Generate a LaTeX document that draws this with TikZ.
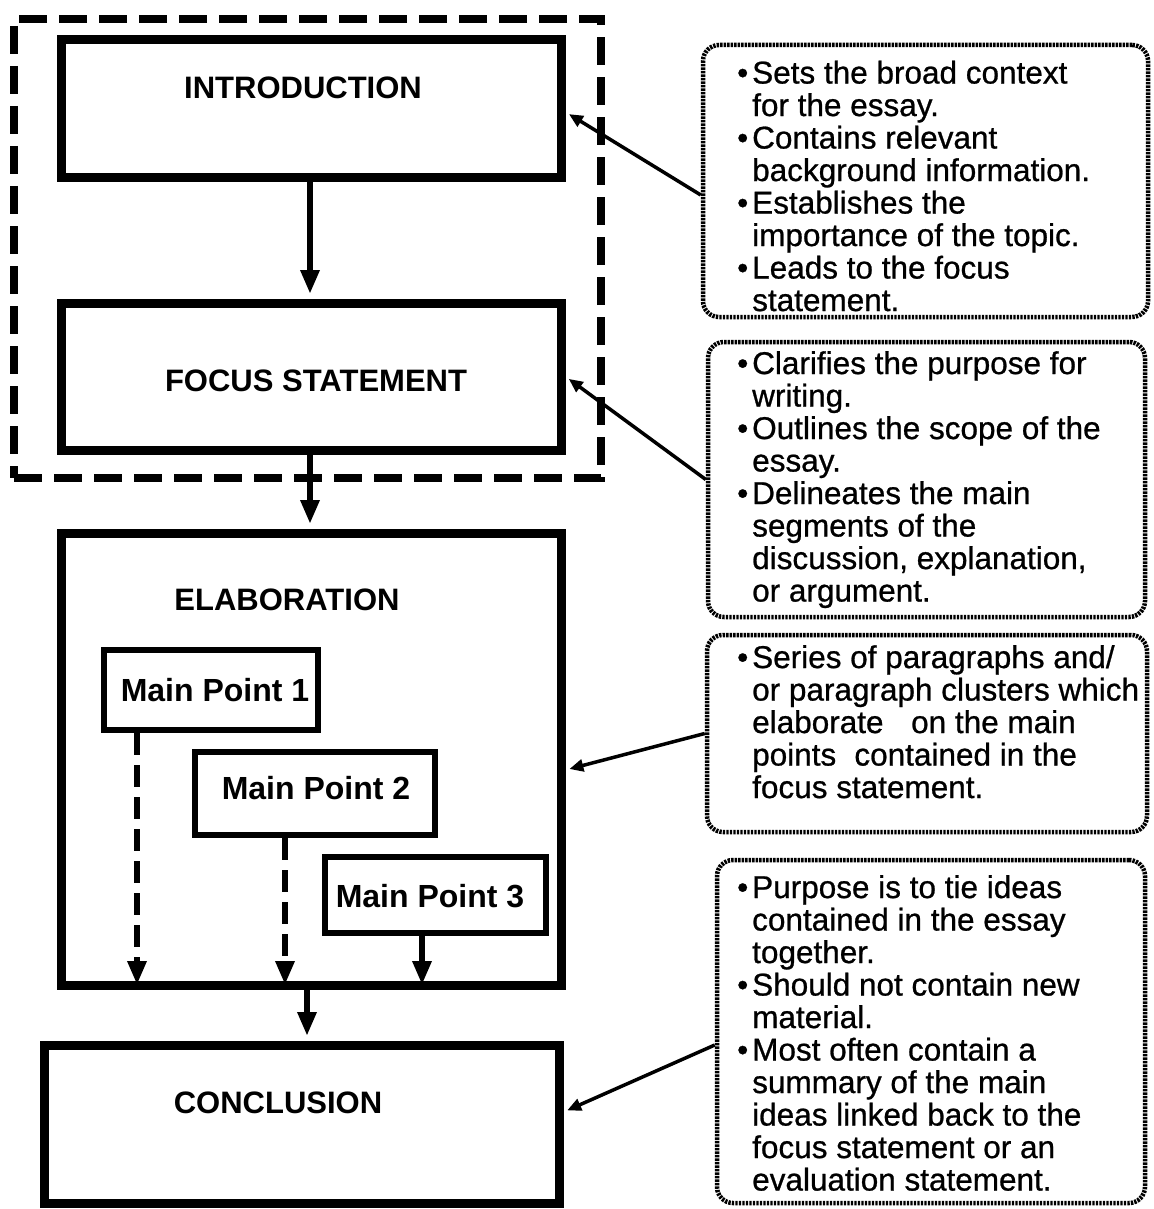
\documentclass[tikz,border=0pt]{standalone}
\usepackage{fontspec}
\setmainfont{Liberation Sans}
% slightly heavier face for the note texts
\newfontfamily\notefont[FakeBold=0.8]{Liberation Sans}
\usetikzlibrary{arrows.meta,calc}

% bullet and hanging indent for the note boxes
\newcommand{\bul}{\makebox[15pt][l]{•}}
\newcommand{\ind}{\hspace*{15pt}}

\tikzset{
  block/.style={draw, line width=9pt, inner sep=0pt},
  pointbox/.style={draw, line width=6.5pt, inner sep=0pt},
  groupbox/.style={draw, line width=8pt, dash pattern=on 28pt off 12pt, inner sep=0pt},
  notebox/.style={draw, line width=4.5pt, rounded corners=16pt,
                  dash pattern=on 2.4pt off 1.1pt, inner sep=0pt},
  lbl/.style={font=\bfseries\fontsize{31}{34}\selectfont, inner sep=0pt},
  mplbl/.style={font=\bfseries\fontsize{32}{34}\selectfont, inner sep=0pt},
  txt/.style={anchor=north west, align=left, inner sep=0pt,
              font=\notefont\fontsize{31.5}{32.5}\selectfont},
  flow/.style={line width=6pt, -{Triangle[length=24pt,width=18pt]}, shorten >=4.5pt},
  dflow/.style={flow, dash pattern=on 22pt off 10pt},
  note/.style={line width=3.5pt, -{Triangle[length=14pt,width=12pt]}, shorten >=4pt}
}

\begin{document}
\begin{tikzpicture}[x=1pt, y=-1pt]
\useasboundingbox (0,0) rectangle (1153,1209);

% grouping of introduction and focus statement
\node[groupbox, minimum width=587pt, minimum height=459pt] (group) at (307.5,248.5) {};

% main column
\node[block, minimum width=500pt, minimum height=138pt] (intro) at (311,109) {};
\node[lbl] (tintro) at (303,88) {INTRODUCTION};

\node[block, minimum width=500pt, minimum height=147pt] (focus) at (311,376.5) {};
\node[lbl] (tfocus) at (316,381) {FOCUS STATEMENT};

\node[block, minimum width=500pt, minimum height=452pt] (elab) at (311,759) {};
\node[lbl] (telab) at (287,600) {ELABORATION};

\node[pointbox, minimum width=214pt, minimum height=80pt] (mp1) at (211,690) {};
\node[mplbl] (tmp1) at (215,690) {Main Point 1};
\node[pointbox, minimum width=240pt, minimum height=83pt] (mp2) at (315,793.5) {};
\node[mplbl] (tmp2) at (316,788) {Main Point 2};
\node[pointbox, minimum width=221pt, minimum height=76pt] (mp3) at (435.5,895) {};
\node[mplbl] (tmp3) at (430,896) {Main Point 3};

\node[block, minimum width=515pt, minimum height=158pt] (concl) at (301.5,1124) {};
\node[lbl] (tconcl) at (278,1103) {CONCLUSION};

% flow arrows
\draw[flow] (intro.south -| 310,0) -- (focus.north -| 310,0);
\draw[flow] (focus.south -| 310,0) -- (elab.north -| 310,0);
\draw[dflow] (mp1.south -| 137,0) -- (elab.south -| 137,0);
\draw[dflow] (mp2.south -| 285,0) -- (elab.south -| 285,0);
\draw[flow] (mp3.south -| 422,0) -- (elab.south -| 422,0);
\draw[flow] (elab.south -| 307,0) -- (concl.north -| 307,0);

% note boxes
\node[notebox, minimum width=445pt, minimum height=272pt] (r1) at (925.5,181) {};
\node[txt] (t1) at (737,60.5) {\bul Sets the broad context\\
\ind for the essay.\\
\bul Contains relevant\\
\ind background information.\\
\bul Establishes the\\
\ind importance of the topic.\\
\bul Leads to the focus\\
\ind statement.};

\node[notebox, minimum width=437pt, minimum height=275pt] (r2) at (926.5,479.5) {};
\node[txt] (t2) at (737,351) {\bul Clarifies the purpose for\\
\ind writing.\\
\bul Outlines the scope of the\\
\ind essay.\\
\bul Delineates the main\\
\ind segments of the\\
\ind discussion, explanation,\\
\ind or argument.};

\node[notebox, minimum width=440pt, minimum height=197pt] (r3) at (927,733.5) {};
\node[txt] (t3) at (737,645) {\bul Series of paragraphs and/\\
\ind or paragraph clusters which\\
\ind elaborate\hspace{0.6em} on the main\\
\ind points\hspace{0.3em} contained in the\\
\ind focus statement.};

\node[notebox, minimum width=428pt, minimum height=343pt] (r4) at (931,1031.5) {};
\node[txt] (t4) at (737,875) {\bul Purpose is to tie ideas\\
\ind contained in the essay\\
\ind together.\\
\bul Should not contain new\\
\ind material.\\
\bul Most often contain a\\
\ind summary of the main\\
\ind ideas linked back to the\\
\ind focus statement or an\\
\ind evaluation statement.};

% note connectors
\draw[note] ([yshift=-14pt]r1.west) -- ([yshift=-3pt]intro.east);
\draw[note] (r2.west) -- (focus.east);
\draw[note] (r3.west) -- ([yshift=-11pt]elab.east);
\draw[note] ([yshift=-13.5pt]r4.west) -- ([yshift=12pt]concl.east);
\end{tikzpicture}
\end{document}
